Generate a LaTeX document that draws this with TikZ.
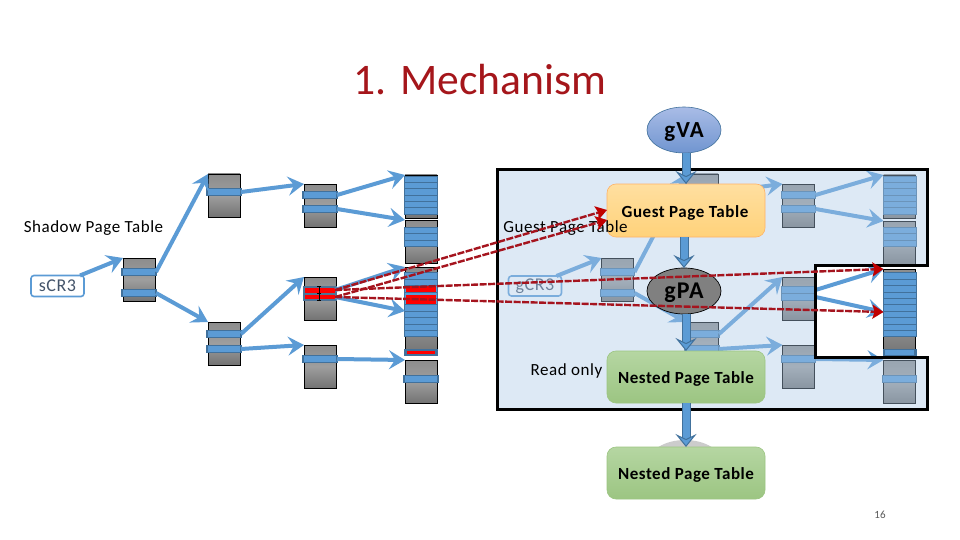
\documentclass[tikz,border=0pt]{standalone}
\usepackage{fontspec}
\setmainfont{Carlito}
\newfontfamily\spacedfont[LetterSpace=3.2]{Carlito}
\newfontfamily\widefont[LetterSpace=5]{Carlito}
\usetikzlibrary{arrows.meta,shapes.geometric}
\definecolor{barblue}{HTML}{5B9BD5}
\definecolor{barline}{HTML}{41719C}
\definecolor{reddark}{HTML}{A5141E}
\definecolor{redhead}{HTML}{C00000}
\definecolor{titlered}{HTML}{A5161B}
\definecolor{vatop}{HTML}{A9BCE6}
\definecolor{vabot}{HTML}{7095D0}
\definecolor{orangetop}{HTML}{FFDFA0}
\definecolor{orangebot}{HTML}{FFD27A}
\definecolor{greentop}{HTML}{B5D6A2}
\definecolor{greenbot}{HTML}{9CC582}
\definecolor{crtext}{HTML}{44546A}
\definecolor{panelfill}{HTML}{ACCAE8}
\tikzset{
  x=1pt,y=-1pt,
  tablebox/.style={draw=black,line width=.8pt,top color=black!45,bottom color=black!55,middle color=black!38,minimum width=32,inner sep=0,outer sep=0,minimum height=43},
  barbox/.style={draw=barline,line width=1.5pt,fill=barblue,minimum width=34,minimum height=7,inner sep=0,outer sep=0},
  stripebar/.style={draw=barline,line width=1pt,fill=barblue,minimum width=33,minimum height=6.2,inner sep=0,outer sep=0},
  link/.style={draw=barblue,line width=4pt,-{Stealth[length=16pt,width=19pt,inset=6pt]}},
  downlink/.style={draw=barline,line width=1pt,double=barblue,double distance=7pt,-{Stealth[length=13pt,width=21pt,inset=5pt,fill=barblue]}},
  reddash/.style={draw=reddark,line width=2.4pt,dash pattern=on 7pt off 1.5pt,-{Stealth[length=11pt,width=14pt,inset=2pt,fill=redhead,color=redhead]}},
  crbox/.style={draw=barblue,line width=1.6pt,rounded corners=3pt,fill=white,inner sep=0,outer sep=0,minimum width=53,minimum height=21,text=crtext,font=\spacedfont\fontsize{18}{20}\selectfont},
  panel/.style={rounded corners=9pt,draw=#1,line width=.6pt,minimum width=158,inner sep=0,outer sep=0},
  paneltext/.style={inner sep=0,outer sep=0,font=\spacedfont\fontsize{17}{20}\selectfont\bfseries},
  label/.style={inner sep=0,outer sep=0,text=black,font=\spacedfont\fontsize{17}{20}\selectfont},
}
\begin{document}
\begin{tikzpicture}
\useasboundingbox (0,0) rectangle (960,540);
\fill[white] (0,0) rectangle (960,540);

\node[inner sep=0,text=titlered,font=\fontsize{43.6}{50}\selectfont] (title) at (480,80) {1. Mechanism};

\node[label] (shadowlabel) at (93.5,228) {Shadow Page Table};

% ---- shadow tables
\node[tablebox] (t1) at (139,279.5) {};
\node[barbox] (t1a) at (139,272) {};
\node[barbox] (t1b) at (139,293) {};
\node[tablebox] (t2) at (224,195.5) {};
\node[barbox] (t2a) at (224,192) {};
\node[tablebox] (t3) at (224,343.5) {};
\node[barbox] (t3a) at (224,334) {};
\node[barbox] (t3b) at (224,349) {};
\node[tablebox] (t4) at (320,205.5) {};
\node[barbox] (t4a) at (320,195) {};
\node[barbox] (t4b) at (320,209) {};
\node[tablebox] (t5) at (320,298.5) {};
\fill[barline!80!gray] (303,286) rectangle (337,301);
\node[inner sep=0,minimum width=30,minimum height=5,fill=red] (t5a) at (320,290) {};
\node[inner sep=0,minimum width=30,minimum height=4,fill=red] (t5b) at (320,297) {};
\node[tablebox] (t6) at (320,366.5) {};
\node[barbox] (t6a) at (320,359) {};
\node[tablebox] (t7) at (421,196.5) {};
\foreach \y in {179.5,185.8,192.1,198.4,204.7,211}{\node[stripebar,minimum height=6.3] at (421,\y) {};}
\node[tablebox] (t8) at (421,241.5) {};
\node[stripebar] (t8a) at (421,230.5) {};
\node[stripebar] (t8b) at (421,237) {};
\node[stripebar] (t8c) at (421,243.5) {};
\node[tablebox,minimum height=88] (t9) at (421,311) {};
\foreach \y in {276,282.4,288.8,295.2,301.6,308,314.4,320.8,327.2,333.6}{\node[stripebar,minimum height=6.4] at (421,\y) {};}
\fill[red] (406,285.5) rectangle (436,292);
\fill[red] (406,295) rectangle (436,303.5);
\fill[barline] (404,349) rectangle (438,355.5);
\fill[red] (407,350.5) rectangle (435,354);
\node[tablebox] (t10) at (421,381.5) {};
\node[barbox] (t10a) at (421,379) {};

\node[crbox] (scr) at (57.5,286) {sCR3};

\draw[link] (scr.25) -- (t1.north west);
\draw[link] (t1a.east) -- (t2.north west);
\draw[link] (t1b.east) -- (t3.north west);
\draw[link] (t2a.east) -- (t4.north west);
\draw[link] (t3a.east) -- (t5.north west);
\draw[link] (t3b.east) -- (t6.north west);
\draw[link] (t4a.east) -- (t7.north west);
\draw[link] (t4b.east) -- (t8.north west);
\draw[link] (t5a.east) -- (t9.north west);
\draw[link] (t5b.east) -- (t9.west);
\draw[link] (t6a.east) -- (t10.north west);

% I-beam cursor
\draw[black,line width=.6pt] (317,286)--(321,286) (319,286)--(319,300) (317,300)--(321,300) (317,293)--(321,293);

% ---- guest tables
\node[tablebox] (g1) at (617.5,279.5) {};
\node[barbox] (g1a) at (617.5,272) {};
\node[barbox] (g1b) at (617.5,293) {};
\node[tablebox] (g2) at (702,195.5) {};
\node[barbox] (g2a) at (702,192) {};
\node[tablebox] (g3) at (702,343.5) {};
\node[barbox] (g3a) at (702,334) {};
\node[barbox] (g3b) at (702,349) {};
\node[tablebox] (g4) at (798.5,205.5) {};
\node[barbox] (g4a) at (798.5,195) {};
\node[barbox] (g4b) at (798.5,209) {};
\node[tablebox] (g5) at (798.5,298.5) {};
\node[barbox] (g5a) at (798.5,290) {};
\node[barbox] (g5b) at (798.5,297) {};
\node[tablebox] (g6) at (798.5,366.5) {};
\node[barbox] (g6a) at (798.5,359) {};
\node[tablebox] (g7) at (899.5,196.5) {};
\foreach \y in {179.5,185.8,192.1,198.4,204.7,211}{\node[stripebar,minimum height=6.3] at (899.5,\y) {};}
\node[tablebox] (g8) at (899.5,242.5) {};
\node[stripebar] (g8a) at (899.5,230.5) {};
\node[stripebar] (g8b) at (899.5,237) {};
\node[stripebar] (g8c) at (899.5,243.5) {};
\node[tablebox,minimum height=86] (g9) at (899.5,312) {};
\foreach \y in {276,282.4,288.8,295.2,301.6,308,314.4,320.8,327.2,333.6}{\node[stripebar,minimum height=6.4] at (899.5,\y) {};}
\fill[barline] (882.5,349) rectangle (916.5,356);
\fill[barblue] (885,350) rectangle (914,355);
\node[tablebox] (g10) at (899.5,381.5) {};
\node[barbox] (g10a) at (899.5,379) {};

\node[crbox,minimum height=20] (gcr) at (535,286) {gCR3};

\draw[link] (gcr.25) -- (g1.north west);
\draw[link] (g1a.east) -- (g2.north west);
\draw[link] (g1b.east) -- (g3.north west);
\draw[link] (g2a.east) -- (g4.north west);
\draw[link] (g3a.east) -- (g5.north west);
\draw[link] (g3b.east) -- (g6.north west);
\draw[link] (g4a.east) -- (g7.north west);
\draw[link] (g4b.east) -- (g8.north west);
\draw[link] (g5a.east) -- (g9.north west);
\draw[link] (g5b.east) -- (g9.west);
\draw[link] (g6a.east) -- (g10.north west);

% ---- translucent enclosure with cut-out
\fill[panelfill,fill opacity=.4]
  (497,170) -- (927,170) -- (927,265) -- (815,265) -- (815,357) -- (927,357) -- (927,409) -- (497,409) -- cycle;
\draw[black,line width=3pt]
  (497,170) -- (927,170) -- (927,265) -- (815,265) -- (815,357) -- (927,357) -- (927,409) -- (497,409) -- cycle;

\node[label] (readonly) at (566.5,371) {Read only};

% ---- pipeline
\node[ellipse,draw=barline,line width=.6pt,minimum width=74,minimum height=46,inner sep=0,outer sep=0,top color=vatop,bottom color=vabot] (gva) at (684,130) {};
\node[inner sep=0,outer sep=0,font=\widefont\fontsize{23}{26}\selectfont\bfseries] (gvatext) at (684,132) {gVA};
\node[ellipse,draw=black,line width=.7pt,minimum width=74,minimum height=46,inner sep=0,outer sep=0,fill=black!50] (gpa) at (684,291) {};
\node[inner sep=0,outer sep=0,font=\widefont\fontsize{24}{26}\selectfont\bfseries] (gpatext) at (684,293) {gPA};
\node[ellipse,draw=none,minimum width=74,minimum height=46,inner sep=0,outer sep=0,fill=black!20] (hpa) at (685,463) {};
\node[panel=orange!60,minimum height=53,top color=orangetop,bottom color=orangebot] (gpt) at (686,210.5) {};
\node[paneltext] (gpttext) at (685,213) {Guest Page Table};
\node[panel=greenbot,minimum height=52,top color=greentop,bottom color=greenbot] (npt) at (686,377) {};
\node[paneltext] (npttext) at (686,379) {Nested Page Table};
\node[panel=greenbot,minimum height=52,top color=greentop,bottom color=greenbot] (npt2) at (686,473) {};
\node[paneltext] (npt2text) at (686,475) {Nested Page Table};
\node[label] (guestlabel) at (565.5,228) {Guest Page Table};

\draw[downlink] (gpt.north |- gva.south) -- (gpt.north);
\draw[downlink] (gpa.north |- gpt.south) -- (gpa.north);
\draw[downlink] (npt.north |- gpa.south) -- (npt.north);
\draw[downlink] (npt.south) -- (npt2.north);

% ---- red dashed links
\draw[reddash] (t5a.east) -- (gpt.north west |- 0,210);
\draw[reddash] (t5b.east) -- (gpt.north west |- 0,220);
\draw[reddash] (t5a.east) -- (g9.north west);
\draw[reddash] (t5b.east) -- (g9.west);

\node[inner sep=0,text=black!65,font=\fontsize{11}{13}\selectfont] (pageno) at (880,515) {16};
\end{tikzpicture}
\end{document}
